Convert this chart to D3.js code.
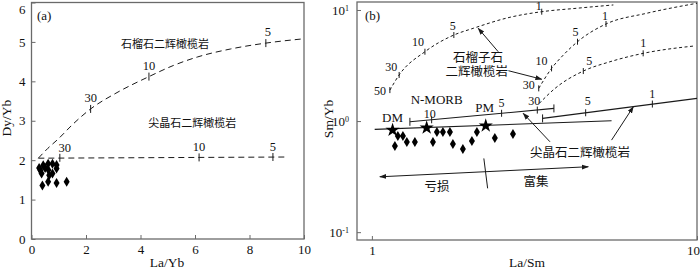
<!DOCTYPE html>
<html>
<head>
<meta charset="utf-8">
<script src="https://cdn.jsdelivr.net/npm/d3@7"></script>
<style>
  body { margin: 0; background: #fff; }
  text { font-family: "Liberation Serif", "Noto Sans CJK SC", serif; fill: #111; }
</style>
</head>
<body>
<svg width="700" height="271"></svg>
<script>
// ---------- panel (a): Dy/Yb vs La/Yb ----------
var aXTicks = [0, 2, 4, 6, 8, 10];
var aYTicks = [0, 1, 2, 3, 4, 5, 6];
var aLaYb = [0.28, 0.33, 0.43, 0.50, 0.61, 0.62, 0.77, 0.92, 0.37, 0.65, 0.77, 0.92, 0.40, 0.61, 0.92, 1.29];
var aDyYb = [1.80, 1.74, 1.87, 1.80, 1.91, 1.75, 1.91, 1.88, 1.66, 1.62, 1.66, 1.79, 1.36, 1.45, 1.42, 1.45];

// garnet lherzolite melting curve
var aGrtX = [0.25, 0.6, 1.0, 1.5, 2.17, 3.1, 4.31, 5.2, 6.1, 7.3, 8.6, 10];
var aGrtY = [2.05, 2.3, 2.55, 2.9, 3.30, 3.7, 4.12, 4.4, 4.62, 4.82, 4.97, 5.08];
var aGrtTickX = [2.17, 4.31, 8.6];
var aGrtTickY = [3.30, 4.12, 4.97];
var aGrtTickLab = ["30", "10", "5"];

// spinel lherzolite melting line
var aSplX = [0.25, 9.37];
var aSplY = [2.05, 2.08];
var aSplTickX = [1.04, 6.15, 8.86];
var aSplTickY = [2.06, 2.07, 2.08];
var aSplTickLab = ["30", "10", "5"];

// ---------- panel (b): Sm/Yb vs La/Sm ----------
var bXTicks = [1, 10];
var bYTicks = [0.1, 1, 10];
var bLaSm = [1.177, 1.202, 1.246, 1.281, 1.356, 1.541, 1.585, 1.654, 1.738, 1.775, 1.905, 2.031, 2.104, 2.389, 2.716];
var bSmYb = [0.595, 0.733, 0.733, 0.647, 0.647, 0.647, 0.796, 0.796, 0.796, 0.621, 0.560, 0.660, 0.796, 0.703, 0.764];

var bRefName = ["DM", "N-MORB", "PM"];
var bRefLaSm = [1.158, 1.474, 2.24];
var bRefSmYb = [0.83, 0.87, 0.907];

// garnet lherzolite curves
var bGrtAX = [1.136, 1.213, 1.456, 1.787, 2.05, 2.66, 3.33, 4.26, 5.53];
var bGrtAY = [1.90, 2.60, 4.21, 5.95, 6.84, 8.6, 9.65, 10.36, 11.1];
var bGrtATickX = [1.136, 1.213, 1.456, 1.787, 3.33];
var bGrtATickY = [1.90, 2.60, 4.21, 5.95, 9.65];
var bGrtATickLab = ["50", "30", "10", "5", "1"];

var bGrtBX = [3.26, 3.57, 3.88, 4.29, 5.25, 7.0, 10];
var bGrtBY = [1.97, 2.98, 3.93, 5.18, 7.48, 9.34, 11.5];
var bGrtBTickX = [3.26, 3.57, 4.29, 5.25];
var bGrtBTickY = [1.97, 2.98, 5.18, 7.48];
var bGrtBTickLab = ["30", "10", "5", "1"];

var bGrtCX = [3.27, 3.66, 4.47, 5.4, 6.83, 9.85];
var bGrtCY = [1.44, 1.97, 2.82, 3.42, 4.07, 4.75];
var bGrtCTickX = [4.47, 6.83];
var bGrtCTickY = [2.82, 4.07];
var bGrtCTickLab = ["5", "1"];

// spinel lherzolite lines
var bMixX = [1.02, 5.46];
var bMixY = [0.842, 1.006];

var bSplAX = [1.309, 3.63];
var bSplAY = [0.985, 1.30];
var bSplATickX = [1.527, 2.506, 3.227];
var bSplATickY = [1.027, 1.175, 1.256];
var bSplATickLab = ["10", "5", "30"];

var bSplBX = [3.35, 10];
var bSplBY = [1.057, 1.60];
var bSplBTickX = [4.545, 7.29];
var bSplBTickY = [1.188, 1.423];
var bSplBTickLab = ["5", "1"];

var svg = d3.select("svg");
var frameColor = "#6a6a6a", ink = "#1a1a1a";

var xa = d3.scaleLinear().domain([0, 10]).range([31.5, 304]);
var ya = d3.scaleLinear().domain([0, 6]).range([239, 2.5]);
var xb = d3.scaleLog().domain([0.9, 10]).range([357, 697]);
var yb = d3.scaleLog().domain([0.085, 11.8]).range([240, 2]);

var defs = svg.append("defs");
defs.append("marker").attr("id", "ah")
  .attr("viewBox", "0 0 10 10").attr("refX", 9).attr("refY", 5)
  .attr("markerWidth", 7).attr("markerHeight", 7)
  .attr("orient", "auto-start-reverse")
  .append("path").attr("d", "M0,1.5L10,5L0,8.5Z").attr("fill", ink);

function zip(xs, ys) { return xs.map(function(x, i) { return [x, ys[i]]; }); }

function diamond(g, pts, sx, sy) {
  g.selectAll(null).data(pts).enter().append("path")
    .attr("d", "M0,-5L3,0L0,5L-3,0Z")
    .attr("transform", function(d) { return "translate(" + sx(d[0]) + "," + sy(d[1]) + ")"; })
    .attr("fill", "#000");
}

function ticks(g, xs, ys, labs, sx, sy, half, offs, fs) {
  xs.forEach(function(x, i) {
    var px = sx(x), py = sy(ys[i]);
    g.append("line").attr("x1", px).attr("x2", px).attr("y1", py - half).attr("y2", py + half)
      .attr("stroke", ink).attr("stroke-width", 1);
    if (labs && labs[i]) {
      g.append("text").attr("x", px + offs[i][0]).attr("y", py + offs[i][1])
        .attr("text-anchor", "middle").attr("dominant-baseline", "central")
        .attr("font-size", fs).text(labs[i]);
    }
  });
}

function styleAxis(a) {
  a.select(".domain").remove();
  a.attr("font-family", null);
  a.selectAll(".tick line").attr("stroke", frameColor);
  a.selectAll(".tick text").attr("font-size", 13).attr("fill", ink);
}

// ===== panel (a) =====
var ga = svg.append("g");
ga.append("rect").attr("x", xa(0)).attr("y", ya(6)).attr("width", xa(10) - xa(0)).attr("height", ya(0) - ya(6))
  .attr("fill", "none").attr("stroke", frameColor).attr("stroke-width", 1.3);

var axA = ga.append("g").attr("transform", "translate(0," + ya(0) + ")")
  .call(d3.axisBottom(xa).tickValues(aXTicks).tickFormat(d3.format("d")).tickSizeInner(-4).tickSizeOuter(0).tickPadding(6));
var ayA = ga.append("g").attr("transform", "translate(" + xa(0) + ",0)")
  .call(d3.axisLeft(ya).tickValues(aYTicks).tickFormat(d3.format("d")).tickSizeInner(-4).tickSizeOuter(0).tickPadding(6));
styleAxis(axA);
styleAxis(ayA);
// keep the top label inside the picture
ayA.selectAll(".tick text").filter(function(d) { return d === 6; }).attr("dy", "0.85em");

ga.append("text").attr("x", 167).attr("y", 267).attr("text-anchor", "middle").attr("font-size", 13.5).text("La/Yb");
ga.append("text").attr("transform", "translate(11,118) rotate(-90)").attr("text-anchor", "middle").attr("font-size", 13.5).text("Dy/Yb");
ga.append("text").attr("x", 37).attr("y", 20).attr("font-size", 13).text("(a)");

var lineA = d3.line().x(function(d) { return xa(d[0]); }).y(function(d) { return ya(d[1]); }).curve(d3.curveMonotoneX);
ga.append("path").attr("d", lineA(zip(aGrtX, aGrtY))).attr("fill", "none")
  .attr("stroke", ink).attr("stroke-width", 1).attr("stroke-dasharray", "6,4");
ga.append("path").attr("d", lineA(zip(aSplX, aSplY))).attr("fill", "none")
  .attr("stroke", ink).attr("stroke-width", 1).attr("stroke-dasharray", "6,4");
ticks(ga, aGrtTickX, aGrtTickY, aGrtTickLab, xa, ya, 4, [[0, -11], [0, -11], [2, -11]], 12.5);
ticks(ga, aSplTickX, aSplTickY, aSplTickLab, xa, ya, 4, [[5, -10], [0, -10], [0, -10]], 12.5);

ga.append("text").attr("x", xa(4.9)).attr("y", ya(4.95)).attr("text-anchor", "middle")
  .attr("dominant-baseline", "central").attr("font-size", 11).text("石榴石二辉橄榄岩");
ga.append("text").attr("x", xa(5.9)).attr("y", ya(2.95)).attr("text-anchor", "middle")
  .attr("dominant-baseline", "central").attr("font-size", 11).text("尖晶石二辉橄榄岩");

diamond(ga, zip(aLaYb, aDyYb), xa, ya);

// ===== panel (b) =====
var gb = svg.append("g");
gb.append("rect").attr("x", xb.range()[0]).attr("y", yb.range()[1])
  .attr("width", xb.range()[1] - xb.range()[0]).attr("height", yb.range()[0] - yb.range()[1])
  .attr("fill", "none").attr("stroke", frameColor).attr("stroke-width", 1.3);

var axB = gb.append("g").attr("transform", "translate(0," + yb.range()[0] + ")")
  .call(d3.axisBottom(xb).tickValues(bXTicks).tickFormat(d3.format("d")).tickSizeInner(-4).tickSizeOuter(0).tickPadding(6));
var ayB = gb.append("g").attr("transform", "translate(" + xb.range()[0] + ",0)")
  .call(d3.axisLeft(yb).tickValues(bYTicks).tickSizeInner(-4).tickSizeOuter(0).tickPadding(8));
styleAxis(axB);
styleAxis(ayB);
axB.selectAll(".tick text").filter(function(d) { return d === 10; }).attr("dx", "-4");
ayB.selectAll(".tick text").each(function(d) {
  var t = d3.select(this).text("10");
  t.append("tspan").attr("dy", "-0.45em").attr("font-size", 8).text(Math.round(Math.log10(d)));
});

gb.append("text").attr("x", 527).attr("y", 267).attr("text-anchor", "middle").attr("font-size", 13.5).text("La/Sm");
gb.append("text").attr("transform", "translate(333,119) rotate(-90)").attr("text-anchor", "middle").attr("font-size", 13.5).text("Sm/Yb");
gb.append("text").attr("x", 365).attr("y", 20).attr("font-size", 13).text("(b)");

var lineB = d3.line().x(function(d) { return xb(d[0]); }).y(function(d) { return yb(d[1]); }).curve(d3.curveMonotoneX);
[[bGrtAX, bGrtAY], [bGrtBX, bGrtBY], [bGrtCX, bGrtCY]].forEach(function(c) {
  gb.append("path").attr("d", lineB(zip(c[0], c[1]))).attr("fill", "none")
    .attr("stroke", ink).attr("stroke-width", 1).attr("stroke-dasharray", "3,2.5");
});
[[bMixX, bMixY], [bSplAX, bSplAY], [bSplBX, bSplBY]].forEach(function(c) {
  gb.append("path").attr("d", lineB(zip(c[0], c[1]))).attr("fill", "none")
    .attr("stroke", ink).attr("stroke-width", 1.1);
});

ticks(gb, bGrtATickX, bGrtATickY, bGrtATickLab, xb, yb, 3,
  [[-10, 1], [-8, -8], [-7, -10], [-1, -9], [-3, -6]], 12);
ticks(gb, bGrtBTickX, bGrtBTickY, bGrtBTickLab, xb, yb, 3,
  [[-10, -3], [-10, -7], [-2, -10], [-1, -8]], 12);
ticks(gb, bGrtCTickX, bGrtCTickY, bGrtCTickLab, xb, yb, 3, [[6, -10], [0, -10]], 12);
ticks(gb, bSplATickX, bSplATickY, bSplATickLab, xb, yb, 3.5, [[-2, -5.5], [0, -10], [-3, -9]], 12);
ticks(gb, [bSplAX[0], bSplAX[1]], [bSplAY[0], bSplAY[1]], null, xb, yb, 4);
ticks(gb, bSplBTickX, bSplBTickY, bSplBTickLab, xb, yb, 3.5, [[2, -12], [0, -10]], 12);
ticks(gb, [bSplBX[0]], [bSplBY[0]], null, xb, yb, 4);

// annotations (data coordinates)
function arrow(x1, y1, x2, y2, both) {
  var p = gb.append("line").attr("x1", xb(x1)).attr("y1", yb(y1)).attr("x2", xb(x2)).attr("y2", yb(y2))
    .attr("stroke", ink).attr("stroke-width", 1).attr("marker-end", "url(#ah)");
  if (both) p.attr("marker-start", "url(#ah)");
}
arrow(2.447, 4.21, 2.124, 6.84);
arrow(2.63, 2.84, 3.33, 2.38);
arrow(3.53, 0.651, 2.92, 1.173);
arrow(5.46, 0.674, 6.37, 1.345);
arrow(1.058, 0.315, 4.63, 0.388, true);
gb.append("line").attr("x1", xb(2.21)).attr("y1", yb(0.461)).attr("x2", xb(2.27)).attr("y2", yb(0.248))
  .attr("stroke", ink).attr("stroke-width", 1);

function label(x, y, s, fs) {
  gb.append("text").attr("x", xb(x)).attr("y", yb(y)).attr("text-anchor", "middle")
    .attr("dominant-baseline", "central").attr("font-size", fs).text(s);
}
label(2.12, 3.73, "石榴子石", 12.5);
label(2.10, 2.79, "二辉橄榄岩", 12.5);
label(4.37, 0.515, "尖晶石二辉橄榄岩", 12.5);
label(1.585, 0.254, "亏损", 12.5);
label(3.2, 0.282, "富集", 12.5);

var refOff = [[0, -13], [10, -28], [-1, -18]];
bRefName.forEach(function(n, i) {
  var px = xb(bRefLaSm[i]), py = yb(bRefSmYb[i]);
  gb.append("path").attr("d", d3.symbol().type(d3.symbolStar).size(62)())
    .attr("transform", "translate(" + px + "," + py + ")").attr("fill", "#000");
  gb.append("text").attr("x", px + refOff[i][0]).attr("y", py + refOff[i][1])
    .attr("text-anchor", "middle").attr("dominant-baseline", "central").attr("font-size", 13).text(n);
});

diamond(gb, zip(bLaSm, bSmYb), xb, yb);
</script>
</body>
</html>
